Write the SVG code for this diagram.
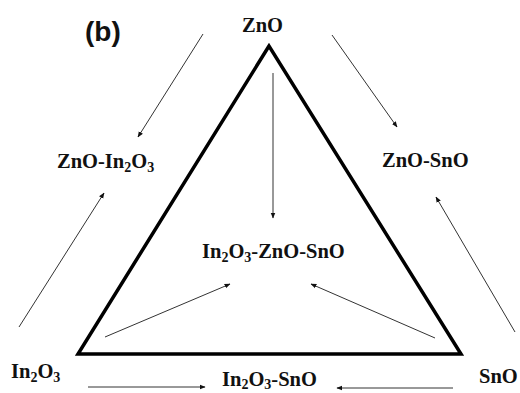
<svg xmlns="http://www.w3.org/2000/svg" width="520" height="393" viewBox="0 0 520 393">
<style>
.lbl{font-family:"Liberation Serif","Times New Roman",serif;font-weight:bold;font-size:20.5px;fill:#111}
.sub{font-size:14px}
.con{stroke:#333;stroke-width:1;fill:none;marker-end:url(#ah)}
</style>
<defs>
<marker id="ah" viewBox="0 0 10 10" refX="9" refY="5" markerWidth="6" markerHeight="6" markerUnits="userSpaceOnUse" orient="auto">
<path d="M0,1 L10,5 L0,9 Z" fill="#111"/>
</marker>
</defs>
<rect width="520" height="393" fill="#fff"/>
<text x="85" y="41" font-family="Liberation Sans,Arial,sans-serif" font-weight="bold" font-size="28" fill="#111">(b)</text>
<g id="triangle"><polygon points="269,46 78,354 461,354" fill="none" stroke="#000" stroke-width="3.5" stroke-linejoin="miter"/></g>
<g id="connectors">
<line class="con" x1="203" y1="34" x2="138" y2="137"/>
<line class="con" x1="332" y1="35" x2="397" y2="127"/>
<line class="con" x1="273" y1="73" x2="273" y2="218"/>
<line class="con" x1="19" y1="327" x2="104" y2="193"/>
<line class="con" x1="515" y1="332" x2="436" y2="197"/>
<line class="con" x1="105" y1="337" x2="230" y2="284"/>
<line class="con" x1="435" y1="338" x2="311" y2="284"/>
<line class="con" x1="88" y1="387" x2="205" y2="387"/>
<line class="con" x1="453" y1="388" x2="337" y2="388"/>
</g>
<g id="ZnO"><text class="lbl" x="242" y="32">ZnO</text></g>
<g id="ZnO-In2O3"><text class="lbl" x="57" y="168">ZnO-In<tspan class="sub" dy="4">2</tspan><tspan dy="-4">O</tspan><tspan class="sub" dy="4">3</tspan></text></g>
<g id="ZnO-SnO"><text class="lbl" x="382" y="167">ZnO-SnO</text></g>
<g id="In2O3-ZnO-SnO"><text class="lbl" x="202" y="258">In<tspan class="sub" dy="4">2</tspan><tspan dy="-4">O</tspan><tspan class="sub" dy="4">3</tspan><tspan dy="-4">-ZnO-SnO</tspan></text></g>
<g id="In2O3"><text class="lbl" x="11" y="378">In<tspan class="sub" dy="4">2</tspan><tspan dy="-4">O</tspan><tspan class="sub" dy="4">3</tspan></text></g>
<g id="In2O3-SnO"><text class="lbl" x="222" y="386">In<tspan class="sub" dy="3">2</tspan><tspan dy="-3">O</tspan><tspan class="sub" dy="3">3</tspan><tspan dy="-3">-SnO</tspan></text></g>
<g id="SnO"><text class="lbl" x="479" y="383">SnO</text></g>
</svg>
